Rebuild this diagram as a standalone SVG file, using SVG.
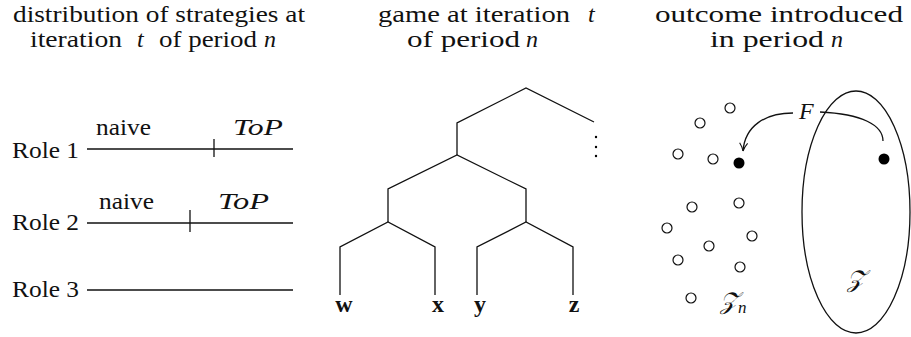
<svg xmlns="http://www.w3.org/2000/svg" width="911" height="337" viewBox="0 0 911 337">
<style>
text{font-family:"Liberation Serif","DejaVu Serif",serif;font-size:24px;fill:#111;font-weight:normal}
.it{font-style:italic}
.b{font-weight:bold}
.ln{stroke:#111;stroke-width:1.3;fill:none}
.oc{fill:#fff;stroke:#111;stroke-width:1.2}
.fc{fill:#000}
.cal{font-family:"DejaVu Serif","Noto Sans","Liberation Serif",serif;font-style:italic}
</style>
<defs>
<marker id="arr" viewBox="0 0 10 10" refX="9" refY="5" markerWidth="10" markerHeight="10" markerUnits="userSpaceOnUse" orient="auto">
<path d="M1,1 Q5,4 9,5 Q5,6 1,9" fill="none" stroke="#111" stroke-width="1.1"/>
</marker>
</defs>
<g id="titles">
<text x="13" y="22" textLength="292" lengthAdjust="spacingAndGlyphs">distribution of strategies at</text>
<text y="47"><tspan x="30" textLength="92" lengthAdjust="spacingAndGlyphs">iteration</tspan><tspan class="it" x="137">t</tspan><tspan x="159" textLength="98" lengthAdjust="spacingAndGlyphs">of period</tspan><tspan class="it" x="264">n</tspan></text>
<text y="22"><tspan x="378" textLength="192" lengthAdjust="spacingAndGlyphs">game at iteration</tspan><tspan class="it" x="588">t</tspan></text>
<text y="47"><tspan x="407" textLength="113" lengthAdjust="spacingAndGlyphs">of period</tspan><tspan class="it" x="526">n</tspan></text>
<text x="655" y="22" textLength="248" lengthAdjust="spacingAndGlyphs">outcome introduced</text>
<text y="47"><tspan x="710" textLength="114" lengthAdjust="spacingAndGlyphs">in period</tspan><tspan class="it" x="831">n</tspan></text>
</g>
<g id="role1">
<text x="12" y="158" textLength="67" lengthAdjust="spacingAndGlyphs">Role 1</text>
<line class="ln" x1="87" y1="149" x2="293" y2="149"/>
<line class="ln" x1="214" y1="139" x2="214" y2="157"/>
<text x="96" y="135" textLength="55" lengthAdjust="spacingAndGlyphs">naive</text>
<text class="it" x="233" y="135" textLength="50" lengthAdjust="spacingAndGlyphs">ToP</text>
</g>
<g id="role2">
<text x="12" y="230" textLength="67" lengthAdjust="spacingAndGlyphs">Role 2</text>
<line class="ln" x1="87" y1="223" x2="293" y2="223"/>
<line class="ln" x1="190" y1="210" x2="190" y2="232"/>
<text x="99" y="209" textLength="55" lengthAdjust="spacingAndGlyphs">naive</text>
<text class="it" x="218" y="209" textLength="51" lengthAdjust="spacingAndGlyphs">ToP</text>
</g>
<g id="role3">
<text x="12" y="297" textLength="67" lengthAdjust="spacingAndGlyphs">Role 3</text>
<line class="ln" x1="87" y1="290" x2="293" y2="290"/>
</g>
<g id="tree">
<path class="ln" d="M594,122 L526,88 L457,123 L457,155"/>
<path class="ln" d="M388,222 L388,189 L457,155 L526,189 L526,222"/>
<path class="ln" d="M340,295 L340,247 L388,222 L435,247 L435,295"/>
<path class="ln" d="M477,295 L477,247 L526,222 L573,247 L573,295"/>
<circle class="fc" cx="596" cy="137" r="1.2"/>
<circle class="fc" cx="596" cy="147" r="1.2"/>
<circle class="fc" cx="596" cy="156" r="1.2"/>
</g>
<g id="leaves">
<text class="b" x="344" y="312" text-anchor="middle">w</text>
<text class="b" x="438" y="312" text-anchor="middle">x</text>
<text class="b" x="480" y="312" text-anchor="middle">y</text>
<text class="b" x="574" y="312" text-anchor="middle">z</text>
</g>
<g id="set-Z">
<ellipse class="ln" cx="856" cy="212" rx="54" ry="121"/>
<circle cx="884" cy="159" r="5.5" class="fc"/>
<text class="cal" x="847" y="287">𝒵</text>
</g>
<g id="set-Zn">
<circle class="oc" cx="730" cy="108" r="5"/>
<circle class="oc" cx="700" cy="123" r="5"/>
<circle class="oc" cx="678" cy="154" r="5"/>
<circle class="oc" cx="713" cy="159" r="5"/>
<circle class="fc" cx="739" cy="163" r="5.5"/>
<circle class="oc" cx="692" cy="207" r="5"/>
<circle class="oc" cx="739" cy="203" r="5"/>
<circle class="oc" cx="667" cy="228" r="5"/>
<circle class="oc" cx="752" cy="236" r="5"/>
<circle class="oc" cx="709" cy="246" r="5"/>
<circle class="oc" cx="678" cy="260" r="5"/>
<circle class="oc" cx="740" cy="267" r="5"/>
<circle class="oc" cx="691" cy="298" r="5"/>
<text class="cal" x="720" y="309">𝒵<tspan class="it" font-family="Liberation Serif" font-size="17" dy="4">n</tspan></text>
</g>
<g id="connectors">
<path class="ln" d="M793,113 C765,113 745,126 743,151" marker-end="url(#arr)"/>
<path class="ln" d="M820,112 C862,114 883,125 883,141"/>
<text class="it" x="799" y="119">F</text>
</g>
</svg>
